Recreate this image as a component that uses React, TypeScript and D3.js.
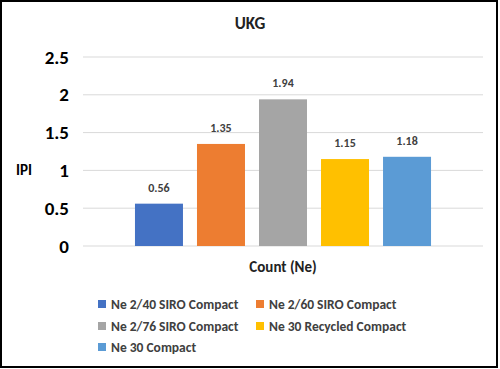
import React from 'react'
import * as d3 from 'd3'

const width = 500
const height = 369
const title = 'UKG'
const category = 'Count (Ne)'
const seriesNames = ['Ne 2/40 SIRO Compact', 'Ne 2/60 SIRO Compact', 'Ne 2/76 SIRO Compact', 'Ne 30 Recycled Compact', 'Ne 30 Compact']
const values = [0.56, 1.35, 1.94, 1.15, 1.18]
const seriesColors = ['#4472C4', '#ED7D31', '#A5A5A5', '#FFC000', '#5B9BD5']
const yTicks = [0, 0.5, 1, 1.5, 2, 2.5]

const plot = { left: 83, right: 483, top: 57, bottom: 246 }
const font = 'Carlito, Calibri, "Open Sans", sans-serif'

export default function App() {
  // outer band: the single category, inner band: one bar per series
  const x0 = d3.scaleBand().domain([category]).range([plot.left, plot.right]).paddingOuter(0.145)
  const x1 = d3.scaleBand().domain(seriesNames)
    .range([x0(category)!, x0(category)! + x0.bandwidth()])
    .paddingInner(0.226).paddingOuter(0.113)
  const y = d3.scaleLinear().domain([0, 2.5]).range([plot.bottom, plot.top])

  const legendX = [98, 256]
  const legendY = [304, 326, 347]

  return (
    <svg width={width} height={height} style={{ position: 'absolute', left: 0, top: 0 }} fontFamily={font}>
      <rect x={0} y={0} width={width} height={height} fill='#fff' />
      <rect x={1} y={1} width={496} height={366} fill='none' stroke='#000' strokeWidth={2} />

      <text x={250} y={23} dy='0.35em' textAnchor='middle' fontSize={17} fontWeight='bold' fill='#222'>{title}</text>

      {yTicks.map(t =>
        <g key={t}>
          <line x1={plot.left} x2={plot.right} y1={y(t)} y2={y(t)} stroke='#d9d9d9' strokeWidth={1} />
          <text x={69} y={y(t)} dy='0.35em' textAnchor='end' fontSize={19} fontWeight='bold' fill='#000'>{t}</text>
        </g>
      )}
      <text x={24} y={170} dy='0.35em' textAnchor='middle' fontSize={15} fontWeight='bold' fill='#000'>IPI</text>

      {seriesNames.map((s, i) =>
        <g key={s}>
          <rect x={x1(s)} y={y(values[i])} width={x1.bandwidth()} height={y(0) - y(values[i])} fill={seriesColors[i]} />
          <text x={x1(s)! + x1.bandwidth() / 2} y={y(values[i]) - 12} textAnchor='middle' fontSize={12} fontWeight='bold' fill='#404040'>{values[i]}</text>
        </g>
      )}

      <text x={x0(category)! + x0.bandwidth() / 2} y={267} dy='0.35em' textAnchor='middle' fontSize={15} fontWeight='bold' fill='#222'>{category}</text>

      {seriesNames.map((s, i) => {
        const lx = legendX[i % 2]
        const ly = legendY[Math.floor(i / 2)]
        return (
          <g key={s}>
            <rect x={lx} y={ly - 4} width={8} height={8} fill={seriesColors[i]} />
            <text x={lx + 13} y={ly} dy='0.35em' fontSize={13.5} fontWeight='bold' fill='#404040'>{s}</text>
          </g>
        )
      })}
    </svg>
  )
}
